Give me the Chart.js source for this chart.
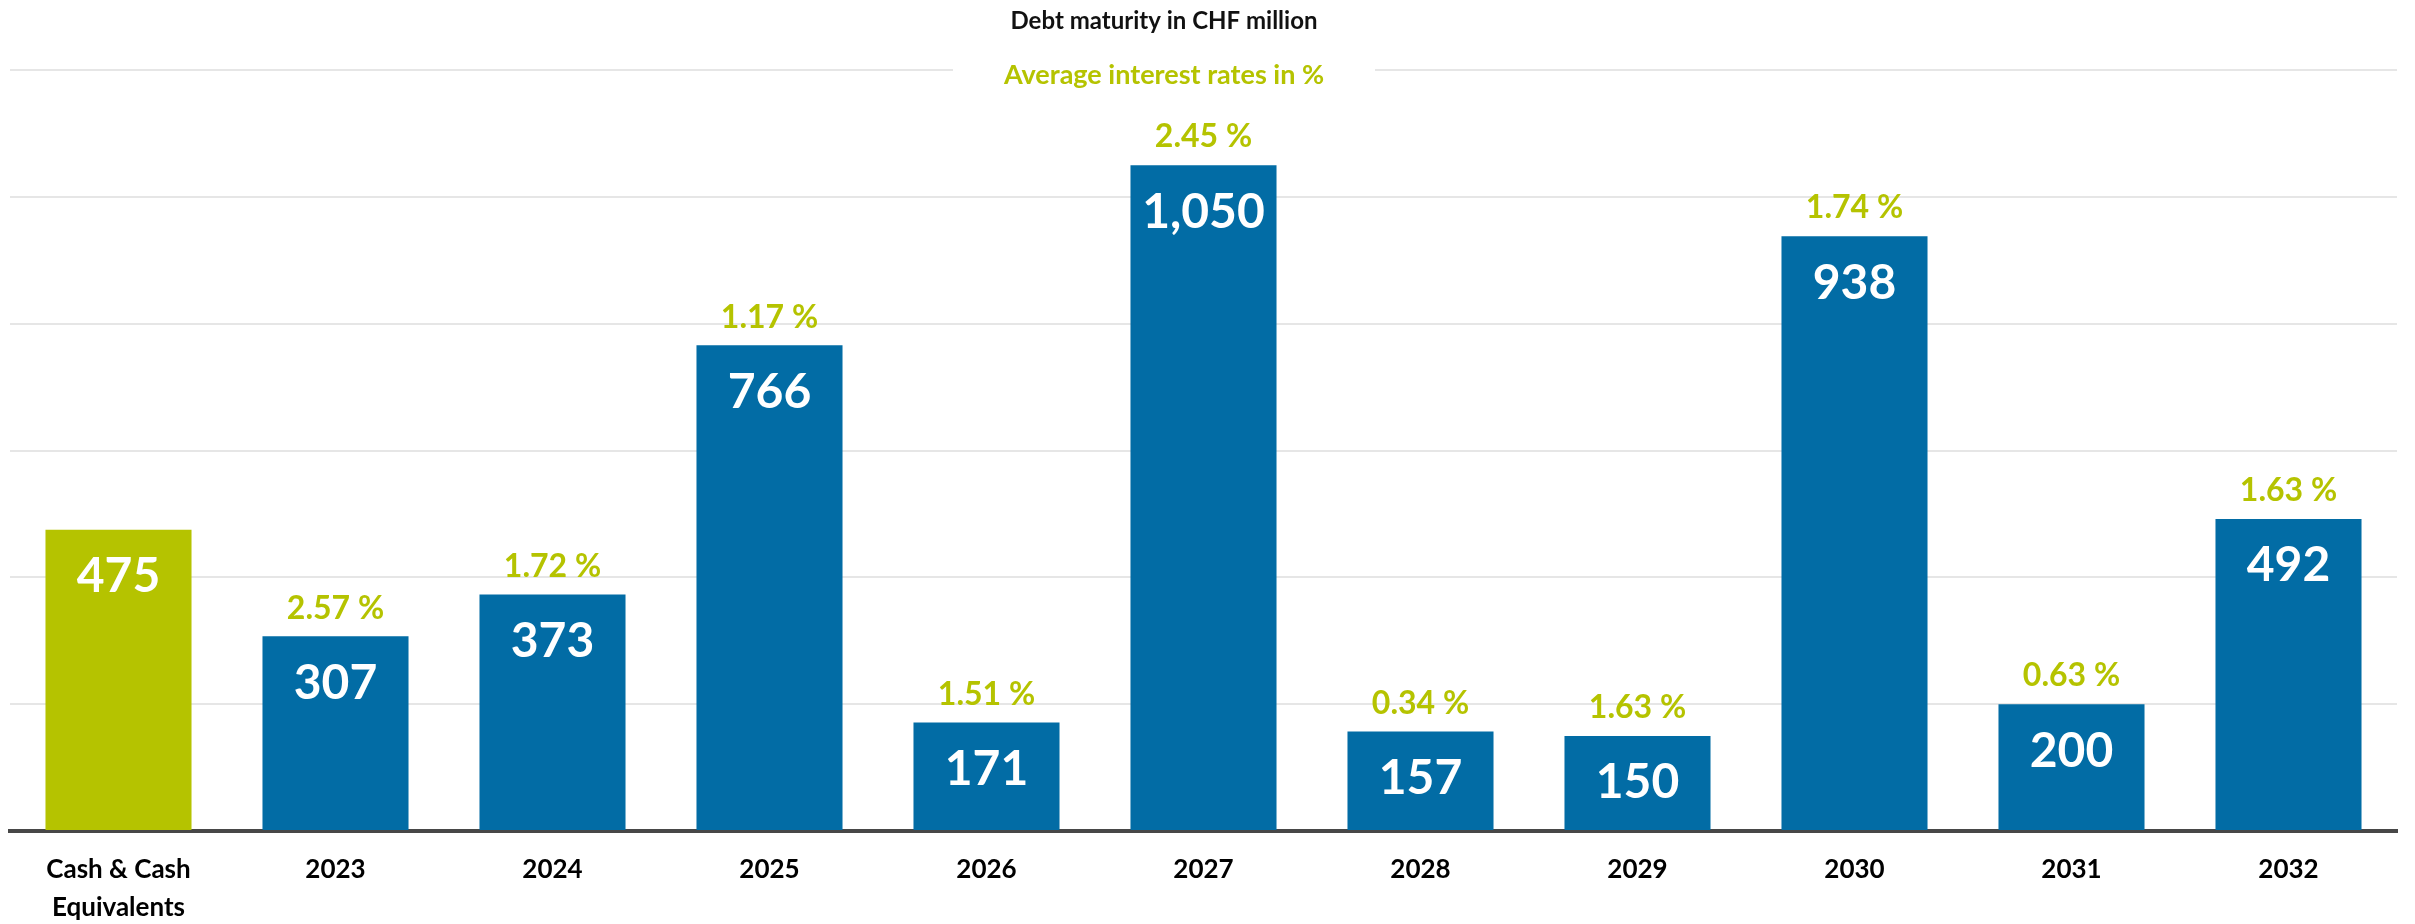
<!DOCTYPE html>
<html>
<head>
<meta charset="utf-8">
<script src="https://cdn.jsdelivr.net/npm/chart.js@4"></script>
<style>
  html, body { margin: 0; padding: 0; background: #fff; }
  canvas { display: block; }
</style>
</head>
<body>
<canvas id="debtChart" width="2415" height="924"></canvas>
<script>
const categories = [["Cash & Cash", "Equivalents"], "2023", "2024", "2025", "2026", "2027", "2028", "2029", "2030", "2031", "2032"];
const maturities = [475, 307, 373, 766, 171, 1050, 157, 150, 938, 200, 492];
const rates = [null, 2.57, 1.72, 1.17, 1.51, 2.45, 0.34, 1.63, 1.74, 0.63, 1.63];
const yTicks = [0, 200, 400, 600, 800, 1000, 1200];

const GREEN = "#b5c300";
const BLUE = "#026ca5";
const FONT = "Lato, 'Noto Sans', sans-serif";

// valeurs dans les barres + taux au-dessus
const barLabels = {
  id: "barLabels",
  afterDatasetsDraw(chart) {
    const ctx = chart.ctx;
    const meta = chart.getDatasetMeta(0);
    ctx.save();
    ctx.textAlign = "center";
    ctx.textBaseline = "middle";
    meta.data.forEach((bar, i) => {
      ctx.font = "bold 48px " + FONT;
      ctx.fillStyle = "#ffffff";
      ctx.fillText(maturities[i].toLocaleString("en-US"), bar.x, bar.y + 47);
      if (rates[i] !== null) {
        ctx.font = "bold 32px " + FONT;
        ctx.fillStyle = GREEN;
        ctx.fillText(rates[i].toFixed(2) + " %", bar.x, bar.y - 28);
      }
    });
    ctx.restore();
  },
};

// titre + sous-titre (le sous-titre coupe la ligne du haut)
const headings = {
  id: "headings",
  afterDraw(chart) {
    const ctx = chart.ctx;
    const cx = 1164;
    ctx.save();
    ctx.textAlign = "center";
    ctx.textBaseline = "middle";
    ctx.font = "bold 24px " + FONT;
    ctx.fillStyle = "#111111";
    ctx.fillText("Debt maturity in CHF million", cx, 21);
    ctx.fillStyle = "#ffffff";
    ctx.fillRect(cx - 211, 58, 422, 34);
    ctx.font = "bold 27px " + FONT;
    ctx.fillStyle = GREEN;
    ctx.fillText("Average interest rates in %", cx, 75);
    ctx.restore();
  },
};

const ctx = document.getElementById("debtChart").getContext("2d");
const debtChart = new Chart(ctx, {
  type: "bar",
  data: {
    labels: categories,
    datasets: [
      {
        label: "Debt maturity in CHF million",
        data: maturities,
        backgroundColor: categories.map((c, i) => (i === 0 ? GREEN : BLUE)),
        borderWidth: 0,
        barPercentage: 0.673,
        categoryPercentage: 1,
      },
    ],
  },
  options: {
    responsive: false,
    animation: false,
    layout: {
      // le bas laisse déborder la 2e ligne de "Cash & Cash Equivalents"
      padding: { top: 70, left: 10, right: 18, bottom: -23 },
    },
    scales: {
      x: {
        grid: { display: false, drawTicks: false },
        border: { display: true, color: "#474747", width: 4 },
        ticks: {
          color: "#000000",
          padding: 20,
          maxRotation: 0,
          autoSkip: false,
          font: { family: FONT, size: 26, weight: "bold", lineHeight: "38px" },
        },
      },
      y: {
        min: 0,
        max: 1200,
        afterBuildTicks: (axis) => {
          axis.ticks = yTicks.map((v) => ({ value: v }));
        },
        grid: {
          drawTicks: false,
          lineWidth: 2,
          color: (c) => (c.tick && c.tick.value === 0 ? "rgba(0,0,0,0)" : "#e6e6e6"),
        },
        border: { display: false },
        ticks: { display: false },
      },
    },
    plugins: {
      legend: { display: false },
      title: { display: false },
      tooltip: { enabled: false },
    },
  },
  plugins: [barLabels, headings],
});
</script>
</body>
</html>
